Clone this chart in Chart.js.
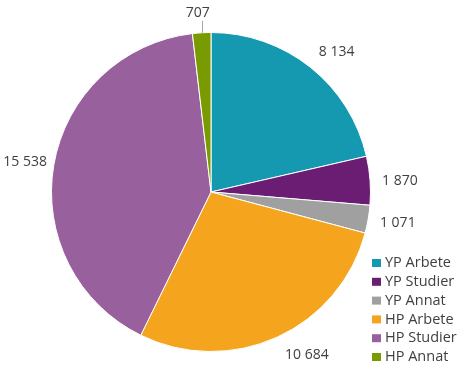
<!DOCTYPE html>
<html lang="sv">
<head>
<meta charset="UTF-8">
<title>Pie</title>
<script src="https://cdn.jsdelivr.net/npm/chart.js"></script>
<style>
  html, body { margin: 0; padding: 0; background: #fff; }
  #wrap { width: 459px; height: 379px; position: relative; }
</style>
</head>
<body>
<div id="wrap"><canvas id="pie"></canvas></div>
<script>
const categories = ["YP Arbete", "YP Studier", "YP Annat", "HP Arbete", "HP Studier", "HP Annat"];
const values = [8134, 1870, 1071, 10684, 15538, 707];
const colors = ["#1499B1", "#6B1D74", "#A0A0A0", "#F4A41D", "#98619E", "#7A9A01"];
// small hand nudges for the label spots, like the original
const labelNudge = [[1, -6], [0, 1], [0, 2], [3, 7], [5, -1], [0, 0]];

function fmt(n) {
    return String(n).replace(/\B(?=(\d{3})+(?!\d))/g, " ");
}

const outLabels = {
    id: "outLabels",
    afterDatasetsDraw(chart) {
        const ctx = chart.ctx;
        const meta = chart.getDatasetMeta(0);
        ctx.save();
        ctx.font = "14px 'Open Sans', sans-serif";
        ctx.fillStyle = "#404040";
        ctx.textBaseline = "middle";
        meta.data.forEach((arc, i) => {
            const mid = (arc.startAngle + arc.endAngle) / 2;
            const cx = arc.x, cy = arc.y, r = arc.outerRadius;
            const txt = fmt(values[i]);
            const frac = (arc.endAngle - arc.startAngle) / (2 * Math.PI);
            if (frac < 0.025) {
                // leader line for tiny slice
                const ex = cx + Math.cos(mid) * r, ey = cy + Math.sin(mid) * r;
                ctx.strokeStyle = "#A6A6A6";
                ctx.lineWidth = 1;
                ctx.beginPath();
                ctx.moveTo(Math.round(ex) + 0.5, ey);
                ctx.lineTo(Math.round(ex) + 0.5, ey - 12);
                ctx.stroke();
                ctx.textAlign = "center";
                ctx.fillText(txt, ex - 4, ey - 20);
                return;
            }
            const d = r + 12;
            const x = cx + Math.cos(mid) * d + labelNudge[i][0];
            const y = cy + Math.sin(mid) * d + labelNudge[i][1];
            ctx.textAlign = Math.cos(mid) >= 0 ? "left" : "right";
            ctx.fillText(txt, x, y);
        });
        ctx.restore();
    }
};

const sideLegend = {
    id: "sideLegend",
    afterDraw(chart) {
        const ctx = chart.ctx;
        ctx.save();
        ctx.font = "14.5px 'Open Sans', sans-serif";
        ctx.textBaseline = "middle";
        ctx.textAlign = "left";
        const x0 = 372, y0 = 263, step = 18.8;
        categories.forEach((c, i) => {
            const y = y0 + i * step;
            ctx.fillStyle = colors[i];
            ctx.fillRect(x0, y - 4, 9, 8);
            ctx.fillStyle = "#404040";
            ctx.fillText(c, x0 + 13, y);
        });
        ctx.restore();
    }
};

new Chart(document.getElementById("pie"), {
    type: "pie",
    data: {
        labels: categories,
        datasets: [{
            data: values,
            backgroundColor: colors,
            borderColor: "#ffffff",
            borderWidth: 1
        }]
    },
    options: {
        responsive: true,
        maintainAspectRatio: false,
        animation: false,
        layout: { padding: { left: 51, right: 88, top: 32, bottom: 27 } },
        plugins: {
            legend: { display: false },
            tooltip: { enabled: false }
        }
    },
    plugins: [outLabels, sideLegend]
});
</script>
</body>
</html>
